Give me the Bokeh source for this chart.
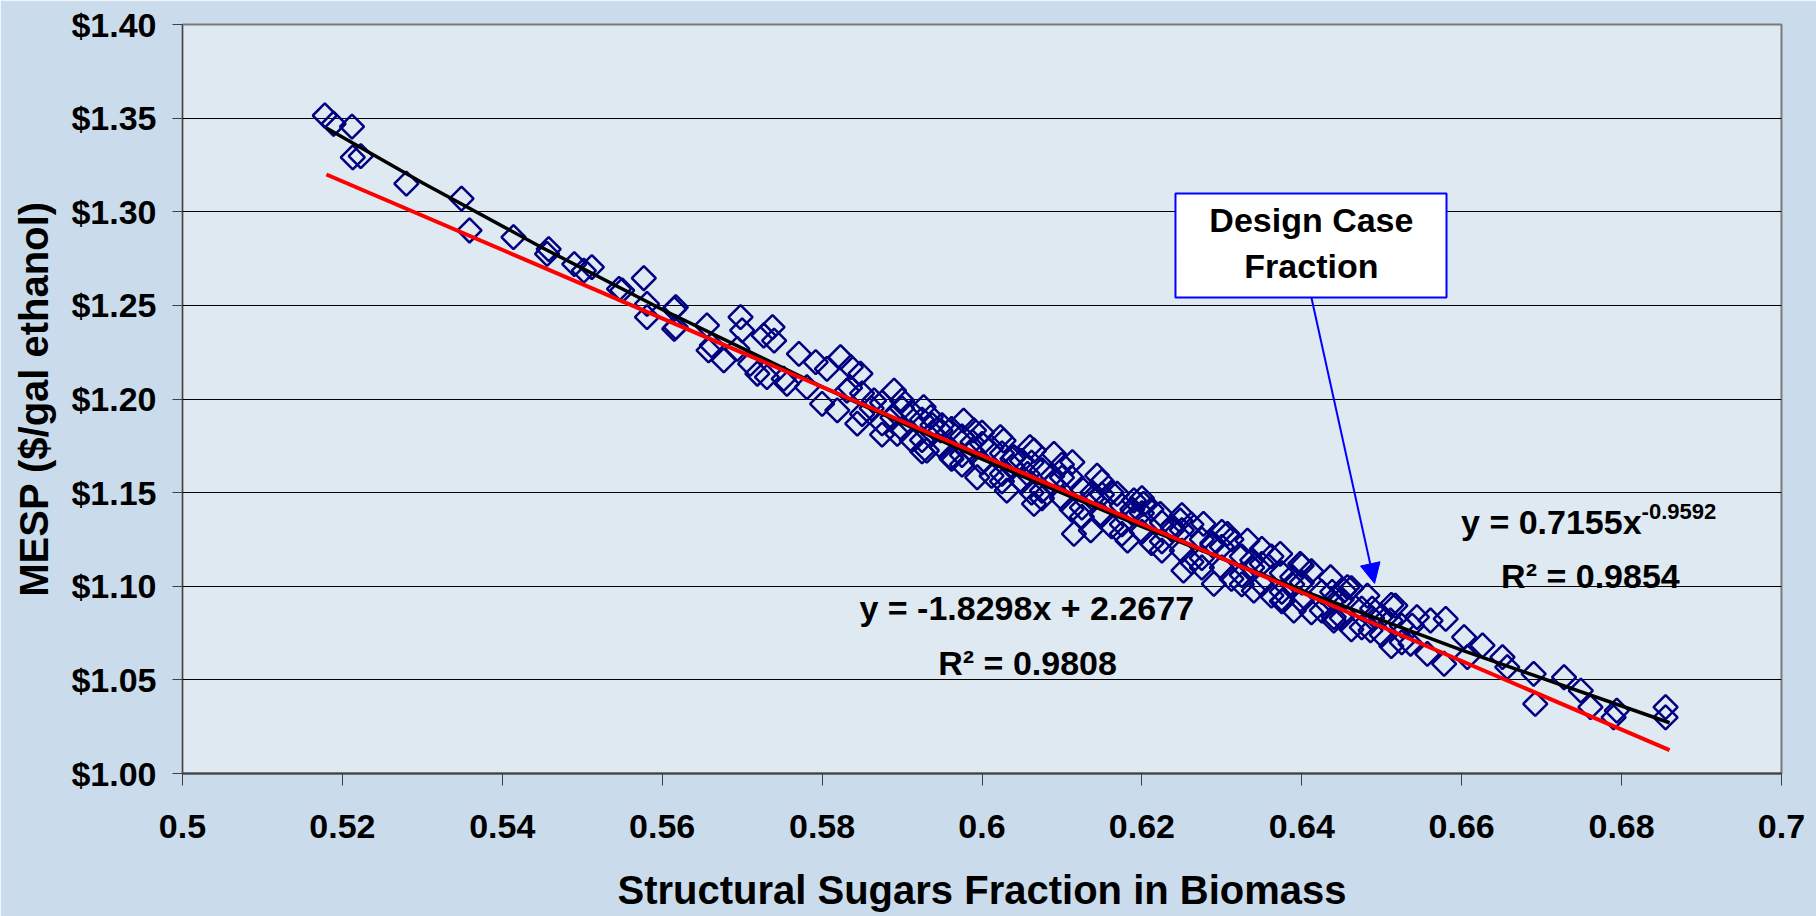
from bokeh.plotting import figure
from bokeh.models import (Range1d, FixedTicker, NumeralTickFormatter, CustomJSTickFormatter,
                          Label, BoxAnnotation, Arrow, NormalHead, ColumnDataSource)
from bokeh.embed import file_html
from bokeh.resources import INLINE
import math

# ---------------- data ----------------
sugar_frac = [
    0.5178, 0.5189, 0.5212, 0.5213, 0.5223, 0.5280, 0.5349, 0.5359, 0.5414, 0.5456,
    0.5458, 0.5490, 0.5502, 0.5512, 0.5546, 0.5550, 0.5577, 0.5581, 0.5581, 0.5615,
    0.5617, 0.5617, 0.5615, 0.5656, 0.5658, 0.5662, 0.5677, 0.5698, 0.5700, 0.5694,
    0.5710, 0.5719, 0.5727, 0.5738, 0.5740, 0.5731, 0.5752, 0.5756, 0.5771, 0.5781,
    0.5792, 0.5800, 0.5806, 0.5823, 0.5819, 0.5836, 0.5848, 0.5844, 0.5831, 0.5865,
    0.5890, 0.5894, 0.5900, 0.5927, 0.5931, 0.5936, 0.5948, 0.5977, 0.5990, 0.5994,
    0.5961, 0.6023, 0.6031, 0.6040, 0.6060, 0.6065, 0.6057, 0.6027, 0.6065, 0.6090,
    0.6115, 0.6113, 0.6136, 0.6144, 0.6169, 0.6182, 0.6190, 0.6202, 0.6223, 0.6248,
    0.6252, 0.6277, 0.6290, 0.6307, 0.6332, 0.6340, 0.6373, 0.6377, 0.6390, 0.6398,
    0.6436, 0.6440, 0.6457, 0.6440, 0.6453, 0.6482, 0.6486, 0.6517, 0.6511, 0.6536,
    0.6544, 0.6561, 0.6557, 0.6580, 0.6578, 0.6603, 0.6607, 0.6626, 0.6651, 0.6657,
    0.6692, 0.6690, 0.6728, 0.6749, 0.6761, 0.6794, 0.6790, 0.6855, 0.6855,
    # dense core
    0.5850, 0.5850, 0.5875, 0.5875, 0.5875, 0.5900, 0.5900, 0.5925, 0.5925, 0.5925,
    0.5950, 0.5950, 0.5975, 0.5975, 0.5975, 0.6000, 0.6000, 0.6025, 0.6025, 0.6025,
    0.6050, 0.6050, 0.6075, 0.6075, 0.6075, 0.6100, 0.6100, 0.6125, 0.6125, 0.6125,
    0.6150, 0.6150, 0.6175, 0.6175, 0.6175, 0.6200, 0.6200, 0.6225, 0.6225, 0.6225,
    0.6250, 0.6250, 0.6275, 0.6275, 0.6275, 0.6300, 0.6300, 0.6325, 0.6325, 0.6325,
    0.6350, 0.6350, 0.6375, 0.6375, 0.6375, 0.6400, 0.6400, 0.6425, 0.6425, 0.6450,
    0.6450, 0.6475, 0.6475, 0.6500, 0.6500, 0.6525, 0.6525,
    0.5835, 0.5862, 0.5888, 0.5912, 0.5938, 0.5962, 0.5988, 0.6012, 0.6038, 0.6062,
    0.6088, 0.6112, 0.6138, 0.6162, 0.6188, 0.6212, 0.6238, 0.6262, 0.6288, 0.6312,
    0.6338, 0.6362, 0.6388, 0.6412, 0.6438, 0.6462, 0.6488, 0.6512, 0.6538,
    0.5912, 0.5962, 0.6012, 0.6062, 0.6112, 0.6162, 0.6212, 0.6262, 0.6312, 0.6362,
    0.6412, 0.6462, 0.6512,
    0.5938, 0.5988, 0.6038, 0.6088, 0.6138, 0.6188, 0.6238, 0.6288, 0.6338, 0.6388,
    0.6438, 0.6488,
    0.6000, 0.6100, 0.6200, 0.6300, 0.6400, 0.6150, 0.6250, 0.6350,
]
mesp = [
    1.3514, 1.3470, 1.3455, 1.3290, 1.3297, 1.3150, 1.3070, 1.2900, 1.2864, 1.2775,
    1.2800, 1.2720, 1.2686, 1.2704, 1.2588, 1.2580, 1.2645, 1.2508, 1.2437, 1.2480,
    1.2384, 1.2490, 1.2375, 1.2393, 1.2260, 1.2286, 1.2206, 1.2437, 1.2366, 1.2268,
    1.2188, 1.2135, 1.2339, 1.2384, 1.2312, 1.2117, 1.2108, 1.2081, 1.2241, 1.2063,
    1.2197, 1.1974, 1.2161, 1.2223, 1.1939, 1.2170, 1.2135, 1.1868, 1.2045, 1.1992,
    1.2045, 1.1814, 1.1992, 1.1956, 1.1725, 1.1903, 1.1832, 1.1885, 1.1832, 1.1582,
    1.1690, 1.1796, 1.1511, 1.1690, 1.1743, 1.1440, 1.1600, 1.1778, 1.1725, 1.1707,
    1.1280, 1.1663, 1.1298, 1.1591, 1.1494, 1.1244, 1.1458, 1.1440, 1.1387, 1.1351,
    1.1084, 1.1333, 1.1013, 1.1280, 1.1244, 1.0977, 1.1173, 1.0924, 1.0870, 1.1120,
    1.1048, 1.0817, 1.0995, 1.0835, 1.0977, 1.0950, 1.0764, 1.0897, 1.0817, 1.0693,
    1.0835, 1.0817, 1.0639, 1.0826, 1.0586, 1.0728, 1.0621, 1.0684, 1.0621, 1.0568,
    1.0372, 1.0532, 1.0514, 1.0443, 1.0354, 1.0336, 1.0300, 1.0354, 1.0300,
    # dense core
    1.2030, 1.1920, 1.1980, 1.1870, 1.1810, 1.1950, 1.1840, 1.1890, 1.1780, 1.1720,
    1.1860, 1.1740, 1.1800, 1.1700, 1.1650, 1.1760, 1.1660, 1.1710, 1.1600, 1.1560,
    1.1670, 1.1560, 1.1620, 1.1510, 1.1470, 1.1580, 1.1470, 1.1520, 1.1420, 1.1370,
    1.1490, 1.1380, 1.1430, 1.1330, 1.1280, 1.1390, 1.1290, 1.1340, 1.1240, 1.1190,
    1.1300, 1.1190, 1.1250, 1.1150, 1.1100, 1.1210, 1.1100, 1.1160, 1.1060, 1.1010,
    1.1120, 1.1010, 1.1070, 1.0970, 1.0920, 1.1020, 1.0920, 1.0970, 1.0870, 1.0930,
    1.0830, 1.0880, 1.0780, 1.0840, 1.0740, 1.0790, 1.0700,
    1.2060, 1.1950, 1.1900, 1.1930, 1.1820, 1.1840, 1.1720, 1.1740, 1.1640, 1.1660,
    1.1550, 1.1580, 1.1470, 1.1500, 1.1390, 1.1410, 1.1300, 1.1330, 1.1220, 1.1250,
    1.1140, 1.1160, 1.1050, 1.1080, 1.0970, 1.0990, 1.0880, 1.0900, 1.0790,
    1.1780, 1.1680, 1.1590, 1.1500, 1.1410, 1.1320, 1.1230, 1.1130, 1.1040, 1.0950,
    1.0860, 1.0770, 1.0680,
    1.1860, 1.1770, 1.1680, 1.1590, 1.1500, 1.1410, 1.1320, 1.1230, 1.1100, 1.1010,
    1.0920, 1.0830,
    1.1820, 1.1650, 1.1470, 1.1290, 1.1110, 1.1560, 1.1380, 1.1200,
]

# trendlines (as printed on the chart)
linear_x = [0.518, 0.686]
linear_y = [1.3199, 1.0125]            # y = -1.8298x + 2.2677
power_x = [0.518, 0.530, 0.545, 0.560, 0.580, 0.600, 0.620, 0.640, 0.660, 0.686]
power_y = [1.3447, 1.3155, 1.2808, 1.2478, 1.2065, 1.1679, 1.1318, 1.0978, 1.0659, 1.0271]  # y = 0.7155x^-0.9592

x_ticks = [0.5, 0.52, 0.54, 0.56, 0.58, 0.6, 0.62, 0.64, 0.66, 0.68, 0.7]
y_ticks = [1.00, 1.05, 1.10, 1.15, 1.20, 1.25, 1.30, 1.35, 1.40]

x_title = "Structural Sugars Fraction in Biomass"
y_title = "MESP ($/gal ethanol)"
linear_eq = "y = -1.8298x + 2.2677"
linear_r2 = "R² = 0.9808"
power_eq = "y = 0.7155x"
power_exp = "-0.9592"
power_r2 = "R² = 0.9854"
callout = ["Design Case", "Fraction"]

# ---------------- styling ----------------
FONT = "Liberation Sans"
NAVY = "#000080"

p = figure(width=1816, height=916, output_backend="svg", toolbar_location=None,
           x_range=Range1d(0.5, 0.7), y_range=Range1d(1.0, 1.4),
           min_border_left=182, min_border_right=35, min_border_top=24, min_border_bottom=143)
p.border_fill_color = "#cadcec"
p.background_fill_color = "#dfe9f2"
p.outline_line_color = "#7a7a7a"
p.outline_line_width = 2

p.xgrid.visible = False
p.ygrid.grid_line_color = "#000000"
p.ygrid.grid_line_width = 1

for ax in (p.xaxis[0], p.yaxis[0]):
    ax.major_label_text_font = FONT
    ax.major_label_text_font_style = "bold"
    ax.major_label_text_font_size = "34px"
    ax.major_label_text_color = "#000000"
    ax.axis_label_text_font = FONT
    ax.axis_label_text_font_style = "bold"
    ax.axis_label_text_font_size = "40px"
    ax.axis_label_text_color = "#000000"
    ax.minor_tick_line_color = None
    ax.major_tick_in = 0
    ax.axis_line_color = "#404040"
    ax.major_tick_line_color = "#404040"

p.xaxis[0].ticker = FixedTicker(ticks=x_ticks)
p.xaxis[0].formatter = CustomJSTickFormatter(code="return tick.toFixed(2).replace(/0+$/,'').replace(/\\.$/,'');")
p.xaxis[0].major_tick_out = 12
p.xaxis[0].major_label_standoff = 29
p.xaxis[0].axis_line_width = 2
p.xaxis[0].axis_label = x_title
p.xaxis[0].axis_label_standoff = 27

p.yaxis[0].ticker = FixedTicker(ticks=y_ticks)
p.yaxis[0].formatter = NumeralTickFormatter(format="$0.00")
p.yaxis[0].major_tick_out = 10
p.yaxis[0].major_label_standoff = 16
p.yaxis[0].axis_label = y_title
p.yaxis[0].axis_label_standoff = 12

src = ColumnDataSource(dict(x=sugar_frac, y=mesp))
p.scatter("x", "y", source=src, marker="square", angle=math.pi / 4, size=17,
          fill_alpha=0, line_color=NAVY, line_width=2.5)

p.line(power_x, power_y, line_color="#000000", line_width=3.5)
p.line(linear_x, linear_y, line_color="#ff0000", line_width=4)

def lab(x, y, text, size="34px", align="center"):
    p.add_layout(Label(x=x, y=y, text=text, text_font=FONT, text_font_style="bold",
                       text_font_size=size, text_color="#000000", text_align=align,
                       text_baseline="alphabetic"))

# trendline equations
lab(0.6056, 1.0884, linear_eq)
lab(0.6057, 1.0592, linear_r2)
lab(0.6825, 1.1345, power_eq, align="right")
lab(0.6825, 1.1400, power_exp, size="22px", align="left")
lab(0.6761, 1.1055, power_r2)

# callout box and arrow
p.add_layout(BoxAnnotation(left=0.6242, right=0.6581, bottom=1.2542, top=1.3097,
                           fill_color="#ffffff", fill_alpha=1, line_color="#0000ff",
                           line_width=2, line_alpha=1))
lab(0.6412, 1.2955, callout[0])
lab(0.6412, 1.2712, callout[1])
p.add_layout(Arrow(x_start=0.6412, y_start=1.2542, x_end=0.6491, y_end=1.1015,
                   line_color="#0000ff", line_width=2,
                   end=NormalHead(size=20, fill_color="#0000ff", line_color="#0000ff")))

open("out.html", "w").write(file_html(p, INLINE))
